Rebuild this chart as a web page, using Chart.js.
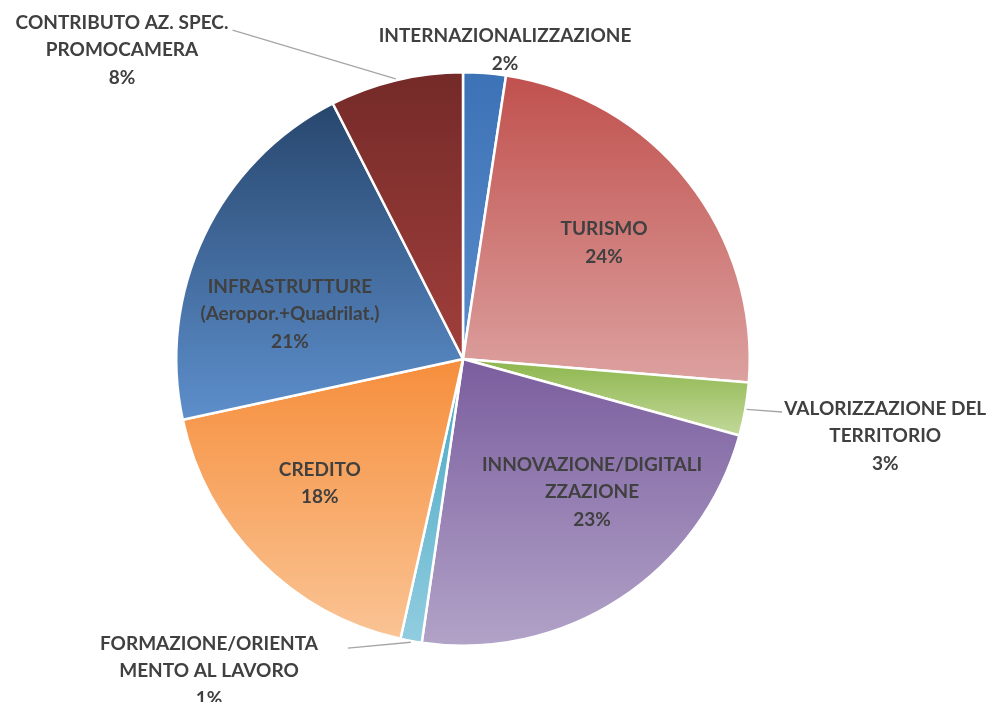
<!DOCTYPE html>
<html>
<head>
<meta charset="utf-8">
<script src="https://cdn.jsdelivr.net/npm/chart.js@4.4.1/dist/chart.umd.min.js"></script>
<style>
  body { margin: 0; background: #fff; }
  canvas { display: block; }
</style>
</head>
<body>
<canvas id="torta" width="991" height="702"></canvas>
<script>
// dati (percentuali, in senso orario dalle 12)
const categorie = [
  "INTERNAZIONALIZZAZIONE",
  "TURISMO",
  "VALORIZZAZIONE DEL TERRITORIO",
  "INNOVAZIONE/DIGITALIZZAZIONE",
  "FORMAZIONE/ORIENTAMENTO AL LAVORO",
  "CREDITO",
  "INFRASTRUTTURE (Aeropor.+Quadrilat.)",
  "CONTRIBUTO AZ. SPEC. PROMOCAMERA"
];
const valori = [2.4, 23.9, 3.0, 23.0, 1.2, 18.1, 20.9, 7.5];

// testo delle etichette, come spezzato nel grafico originale
const righeEtichette = [
  ["INTERNAZIONALIZZAZIONE"],
  ["TURISMO"],
  ["VALORIZZAZIONE DEL", "TERRITORIO"],
  ["INNOVAZIONE/DIGITALI", "ZZAZIONE"],
  ["FORMAZIONE/ORIENTA", "MENTO AL LAVORO"],
  ["CREDITO"],
  ["INFRASTRUTTURE", "(Aeropor.+Quadrilat.)"],
  ["CONTRIBUTO AZ. SPEC.", "PROMOCAMERA"]
];

// colori sfumati (alto -> basso)
const coloriAlto  = ["#3c72b6", "#c0504d", "#8db54c", "#7a5d9e", "#46a6c2", "#f68e3c", "#27466d", "#742a28"];
const coloriBasso = ["#5a8ccb", "#dca19f", "#c2d99a", "#b2a3c8", "#92cde0", "#fac495", "#5d8fcc", "#a13f3c"];

// posizione del centro del blocco etichetta, in raggi rispetto al centro
const posEtichette = [
  [0.146, -1.073], [0.49, -0.403], [1.466, 0.267], [0.448, 0.462],
  [-0.882, 1.083], [-0.497, 0.431], [-0.601, -0.156], [-1.184, -1.073]
];
// linee guida: punto d'arrivo vicino all'etichetta (null = nessuna linea)
const lineeGuida = [null, null, [1.108, 0.184], null, [-0.40, 1.004], null, null, [-0.80, -1.142]];

function geometria(chart) {
  const a = chart.chartArea;
  return {
    cx: (a.left + a.right) / 2,
    cy: (a.top + a.bottom) / 2,
    r: Math.min(a.right - a.left, a.bottom - a.top) / 2
  };
}

function angoli(i) {
  const tot = valori.reduce((s, v) => s + v, 0);
  let cum = 0;
  for (let k = 0; k < i; k++) cum += valori[k];
  const a0 = cum / tot * Math.PI * 2 - Math.PI / 2;
  const a1 = (cum + valori[i]) / tot * Math.PI * 2 - Math.PI / 2;
  return [a0, a1];
}

function sfumatura(context) {
  const chart = context.chart;
  const i = context.dataIndex;
  if (!chart.chartArea) return coloriAlto[i];
  const g = geometria(chart);
  const [a0, a1] = angoli(i);
  let ys = [g.cy, g.cy + g.r * Math.sin(a0), g.cy + g.r * Math.sin(a1)];
  // estremi verticali dentro lo spicchio
  [-Math.PI / 2, Math.PI / 2, 3 * Math.PI / 2].forEach(a => {
    if (a > a0 && a < a1) ys.push(g.cy + g.r * Math.sin(a));
  });
  const yMin = Math.min(...ys), yMax = Math.max(...ys);
  const grad = chart.ctx.createLinearGradient(0, yMin, 0, yMax);
  grad.addColorStop(0, coloriAlto[i]);
  grad.addColorStop(1, coloriBasso[i]);
  return grad;
}

const etichettePlugin = {
  id: "etichette",
  afterDatasetsDraw(chart) {
    const ctx = chart.ctx;
    const g = geometria(chart);
    const tot = valori.reduce((s, v) => s + v, 0);
    ctx.save();

    // linee guida
    ctx.strokeStyle = "#a6a6a6";
    ctx.lineWidth = 1.3;
    lineeGuida.forEach((p, i) => {
      if (!p) return;
      const [a0, a1] = angoli(i);
      const am = (a0 + a1) / 2;
      ctx.beginPath();
      ctx.moveTo(g.cx + g.r * Math.cos(am), g.cy + g.r * Math.sin(am));
      ctx.lineTo(g.cx + p[0] * g.r, g.cy + p[1] * g.r);
      ctx.stroke();
    });

    // testi
    ctx.font = "bold 19px Lato, 'Open Sans', sans-serif";
    ctx.fillStyle = "#404040";
    ctx.textAlign = "center";
    ctx.textBaseline = "middle";
    const passo = 27.5;
    righeEtichette.forEach((righe, i) => {
      const testo = righe.concat([Math.round(valori[i] / tot * 100) + "%"]);
      const x = g.cx + posEtichette[i][0] * g.r;
      const y = g.cy + posEtichette[i][1] * g.r;
      const y0 = y - (testo.length - 1) * passo / 2;
      testo.forEach((t, k) => ctx.fillText(t, x, y0 + k * passo));
    });
    ctx.restore();
  }
};

new Chart(document.getElementById("torta").getContext("2d"), {
  type: "pie",
  data: {
    labels: categorie,
    datasets: [{
      data: valori,
      backgroundColor: sfumatura,
      borderColor: "#ffffff",
      borderWidth: 2.5
    }]
  },
  options: {
    responsive: false,
    animation: false,
    layout: { padding: { left: 175, right: 240, top: 71, bottom: 55 } },
    plugins: {
      legend: { display: false },
      tooltip: { enabled: false }
    }
  },
  plugins: [etichettePlugin]
});
</script>
</body>
</html>
